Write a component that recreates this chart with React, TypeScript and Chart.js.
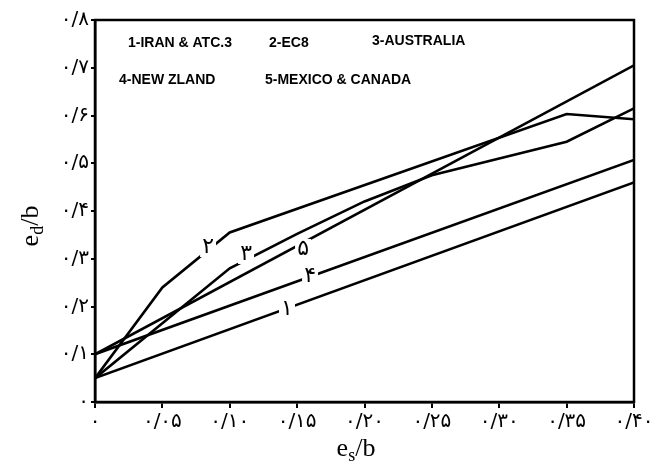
import React, { useEffect, useRef } from "react";
import { Chart, registerables } from "chart.js";

Chart.register(...registerables);

// ---- data ----
const xTickLabels = ["۰", "۰/۰۵", "۰/۱۰", "۰/۱۵", "۰/۲۰", "۰/۲۵", "۰/۳۰", "۰/۳۵", "۰/۴۰"];
const yTickLabels = ["۰", "۰/۱", "۰/۲", "۰/۳", "۰/۴", "۰/۵", "۰/۶", "۰/۷", "۰/۸"];

const seriesNames = ["1-IRAN & ATC.3", "2-EC8", "3-AUSTRALIA", "4-NEW ZLAND", "5-MEXICO & CANADA"];

const iranX = [0, 0.4];
const iranY = [0.05, 0.46];

const ec8X = [0, 0.05, 0.1, 0.35, 0.4];
const ec8Y = [0.05, 0.24, 0.355, 0.603, 0.592];

const australiaX = [0, 0.05, 0.1, 0.15, 0.2, 0.25, 0.3, 0.35, 0.4];
const australiaY = [0.05, 0.165, 0.28, 0.352, 0.42, 0.475, 0.51, 0.545, 0.615];

const newZealandX = [0, 0.4];
const newZealandY = [0.1, 0.507];

const mexicoX = [0, 0.4];
const mexicoY = [0.1, 0.705];

// curve tags (Persian digits) placed on the curves, in data units
const curveTags = ["۱", "۲", "۳", "۴", "۵"];
const tagX = [0.1425, 0.0839, 0.1121, 0.1596, 0.1544];
const tagY = [0.1948, 0.3246, 0.31, 0.2639, 0.3204];

const toPoints = (xs: number[], ys: number[]) => xs.map((x, i) => ({ x, y: ys[i] }));

function drawSubTitle(ctx: CanvasRenderingContext2D, main: string, sub: string, rest: string, cx: number, baseline: number) {
  const big = "26px 'Liberation Serif'";
  const small = "18px 'Liberation Serif'";
  ctx.font = big;
  const w1 = ctx.measureText(main).width;
  const w3 = ctx.measureText(rest).width;
  ctx.font = small;
  const w2 = ctx.measureText(sub).width;
  const total = w1 + w2 + w3;
  let x0 = cx - total / 2;
  ctx.textAlign = "left";
  ctx.textBaseline = "alphabetic";
  ctx.font = big;
  ctx.fillText(main, x0, baseline);
  x0 += w1;
  ctx.font = small;
  ctx.fillText(sub, x0, baseline + 5);
  x0 += w2;
  ctx.font = big;
  ctx.fillText(rest, x0, baseline);
}

const decor = {
  id: "decor",
  afterDatasetsDraw(chart: any) {
    const { ctx, chartArea: a, scales } = chart;
    const xs = scales.x;
    const ys = scales.y;
    ctx.save();
    // frame
    ctx.strokeStyle = "#000";
    ctx.lineWidth = 2.5;
    ctx.strokeRect(a.left, a.top, a.right - a.left, a.bottom - a.top);

    // curve tags
    ctx.font = "22px 'DejaVu Sans'";
    ctx.textAlign = "center";
    ctx.textBaseline = "middle";
    curveTags.forEach((t, i) => {
      const px = xs.getPixelForValue(tagX[i]);
      const py = ys.getPixelForValue(tagY[i]);
      ctx.fillStyle = "#fff";
      ctx.fillRect(px - 8, py - 10, 16, 20);
      ctx.fillStyle = "#000";
      ctx.fillText(t, px, py);
    });

    // legend texts inside the plot
    const w = a.right - a.left;
    const h = a.bottom - a.top;
    const legendPos = [
      [0.0612, 0.0707],
      [0.3228, 0.0707],
      [0.514, 0.066],
      [0.0445, 0.1675],
      [0.3154, 0.1675],
    ];
    ctx.font = "bold 14px 'Liberation Sans'";
    ctx.textAlign = "left";
    ctx.textBaseline = "alphabetic";
    ctx.fillStyle = "#000";
    seriesNames.forEach((n, i) => {
      ctx.fillText(n, a.left + legendPos[i][0] * w, a.top + legendPos[i][1] * h);
    });

    // axis titles
    drawSubTitle(ctx, "e", "s", "/b", 356, 456);
    ctx.translate(38, 226);
    ctx.rotate(-Math.PI / 2);
    drawSubTitle(ctx, "e", "d", "/b", 0, 0);
    ctx.restore();
  },
};

export default function App() {
  const ref = useRef<HTMLCanvasElement | null>(null);
  useEffect(() => {
    if (!ref.current) return;
    const lineStyle = {
      borderColor: "#000",
      borderWidth: 2.6,
      pointRadius: 0,
      fill: false,
      tension: 0,
    };
    const chart = new Chart(ref.current, {
      type: "line",
      data: {
        datasets: [
          { label: seriesNames[0], data: toPoints(iranX, iranY), ...lineStyle },
          { label: seriesNames[1], data: toPoints(ec8X, ec8Y), ...lineStyle },
          { label: seriesNames[2], data: toPoints(australiaX, australiaY), ...lineStyle },
          { label: seriesNames[3], data: toPoints(newZealandX, newZealandY), ...lineStyle },
          { label: seriesNames[4], data: toPoints(mexicoX, mexicoY), ...lineStyle },
        ],
      },
      options: {
        animation: false,
        responsive: false,
        devicePixelRatio: 1,
        layout: { padding: { top: 20, right: 27, left: 0, bottom: 0 } },
        plugins: { legend: { display: false }, tooltip: { enabled: false } },
        scales: {
          x: {
            type: "linear",
            min: 0,
            max: 0.4,
            afterFit: (s: any) => {
              s.height = 66;
            },
            ticks: {
              stepSize: 0.05,
              autoSkip: false,
              maxRotation: 0,
              color: "#000",
              padding: 2,
              font: { family: "'DejaVu Sans'", size: 20 },
              callback: (_v: any, i: number) => xTickLabels[i],
            },
            grid: { drawOnChartArea: false, drawTicks: true, tickLength: 6, color: "#000", lineWidth: 2 },
            border: { color: "#000", width: 2.5 },
          },
          y: {
            type: "linear",
            min: 0,
            max: 0.8,
            afterFit: (s: any) => {
              s.width = 95;
            },
            ticks: {
              stepSize: 0.1,
              autoSkip: false,
              color: "#000",
              padding: 2,
              font: { family: "'DejaVu Sans'", size: 20 },
              callback: (_v: any, i: number) => yTickLabels[i],
            },
            grid: { drawOnChartArea: false, drawTicks: true, tickLength: 4, color: "#000", lineWidth: 2 },
            border: { color: "#000", width: 2.5 },
          },
        },
      },
      plugins: [decor],
    });
    return () => chart.destroy();
  }, []);
  return (
    <div style={{ position: "absolute", left: 0, top: 0, width: 661, height: 468, background: "#fff" }}>
      <canvas ref={ref} width={661} height={468} style={{ display: "block" }} />
    </div>
  );
}
